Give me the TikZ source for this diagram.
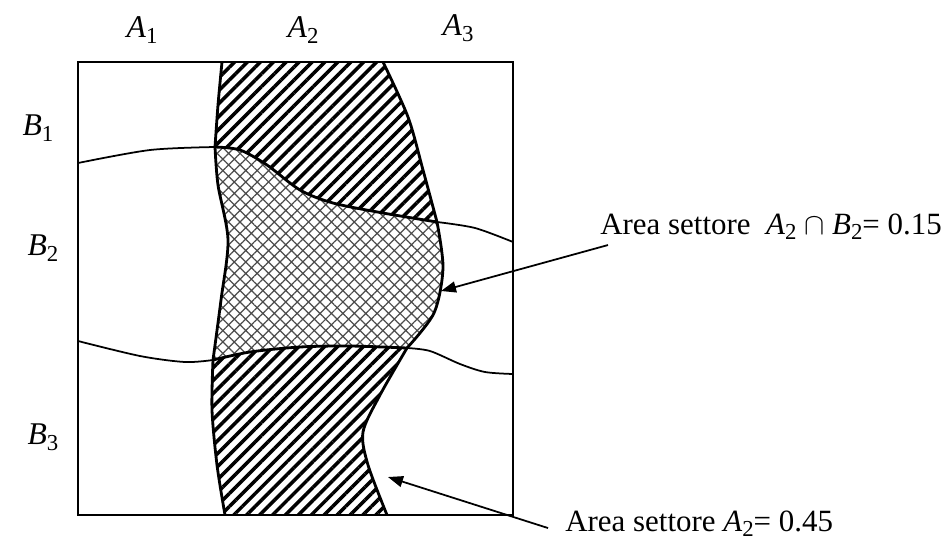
\documentclass[tikz,border=0pt]{standalone}
\usepackage{fontspec}
\setmainfont{Liberation Serif}
\usepackage{tikz}
\usetikzlibrary{
    arrows.meta,
    patterns.meta
}
\tikzset{
  lbl/.style    = {font=\fontsize{18}{21}\selectfont, inner sep=0pt},
  note/.style   = {font=\fontsize{17.6}{20}\selectfont, inner sep=0pt},
  frame/.style  = {draw, line width=1pt},
  thin/.style   = {line width=1pt},
  bound/.style  = {line width=1.6pt},
  hatchA/.style = {pattern={Lines[angle=45, distance=5.2pt, line width=2pt]}},
  hatchB/.style = {pattern={Hatch[angle=45, distance=4.6pt, line width=0.7pt]},
                   pattern color=black!70},
  arr/.style    = {-{Triangle[length=0.3cm, width=0.22cm]}, line width=1pt}
}
\newcommand{\setl}[2]{\textit{#1}\raisebox{-0.4ex}{\fontsize{13}{15}\selectfont #2}}

\begin{document}
\begin{tikzpicture}[x=0.02cm, y=-0.02cm]
\useasboundingbox (0,0) rectangle (949,542);

%% hatched part of A2 (inside B1)
\fill[hatchA] (222,62) -- (383,62)
  -- plot[smooth] coordinates {(383,62) (408,117) (423,170) (437,222)}
  -- plot[smooth] coordinates {(437,222) (383,213) (333,203) (300,190) (267,165) (240,150) (215,147)}
  -- plot[smooth] coordinates {(215,147) (218,105) (222,62)} -- cycle;

%% hatched part of A2 (inside B3)
\fill[hatchA] plot[smooth] coordinates {(213,360) (212,410) (217,465) (225,515)}
  -- (387,515)
  -- plot[smooth] coordinates {(387,515) (368,465) (363,432) (380,395) (407,348)}
  -- plot[smooth] coordinates {(407,348) (350,346) (300,347) (250,352) (213,360)} -- cycle;

%% cross-hatched sector A2 and B2
\fill[hatchB] plot[smooth] coordinates {(215,147) (218,185) (228,240) (221,300) (213,360)}
  -- plot[smooth] coordinates {(213,360) (250,352) (300,347) (350,346) (407,348)}
  -- plot[smooth] coordinates {(407,348) (434,313) (443,268) (437,222)}
  -- plot[smooth] coordinates {(437,222) (383,213) (333,203) (300,190) (267,165) (240,150) (215,147)} -- cycle;

%% outer square
\draw[frame] (78,62) rectangle (513,515);

%% B boundaries
\draw[thin] plot[smooth] coordinates {(78,163) (150,150) (215,147)};
\draw[thin] plot[smooth] coordinates {(437,222) (475,228) (513,242)};
\draw[thin] plot[smooth] coordinates {(78,341) (140,356) (185,362) (213,360)};
\draw[thin] plot[smooth] coordinates {(407,348) (430,351) (460,364) (485,372) (513,374)};
\draw[bound] plot[smooth] coordinates {(215,147) (240,150) (267,165) (300,190) (333,203) (383,213) (437,222)};
\draw[bound] plot[smooth] coordinates {(213,360) (250,352) (300,347) (350,346) (407,348)};

%% A2 boundaries
\draw[bound] plot[smooth] coordinates {(222,62) (218,105) (215,147)};
\draw[bound] plot[smooth] coordinates {(215,147) (218,185) (228,240) (221,300) (213,360)};
\draw[bound] plot[smooth] coordinates {(213,360) (212,410) (217,465) (225,515)};
\draw[bound] plot[smooth] coordinates {(383,62) (408,117) (423,170) (437,222)};
\draw[bound] plot[smooth] coordinates {(437,222) (443,268) (434,313) (407,348)};
\draw[bound] plot[smooth] coordinates {(407,348) (380,395) (363,432) (368,465) (387,515)};

%% column and row labels
\node[lbl] (a1) at (142,30) {\setl{A}{1}};
\node[lbl] (a2) at (303,30) {\setl{A}{2}};
\node[lbl] (a3) at (458,28) {\setl{A}{3}};
\node[lbl] (b1) at (38,128) {\setl{B}{1}};
\node[lbl] (b2) at (43,248) {\setl{B}{2}};
\node[lbl] (b3) at (43,437) {\setl{B}{3}};

%% annotations
\node[note, anchor=base west] (inter) at (600,234)
  {Area settore \ \setl{A}{2} $\cap$ \setl{B}{2}= 0.15};
\node[note, anchor=base west] (sect) at (565,531)
  {Area settore \setl{A}{2}= 0.45};
\coordinate (tipint) at (441,291);
\coordinate (tipsec) at (388,477);
\draw[arr] ([shift={(8,5)}]inter.south west) -- (tipint);
\draw[arr] ([shift={(-17,-9)}]sect.south west) -- (tipsec);

\end{tikzpicture}
\end{document}
